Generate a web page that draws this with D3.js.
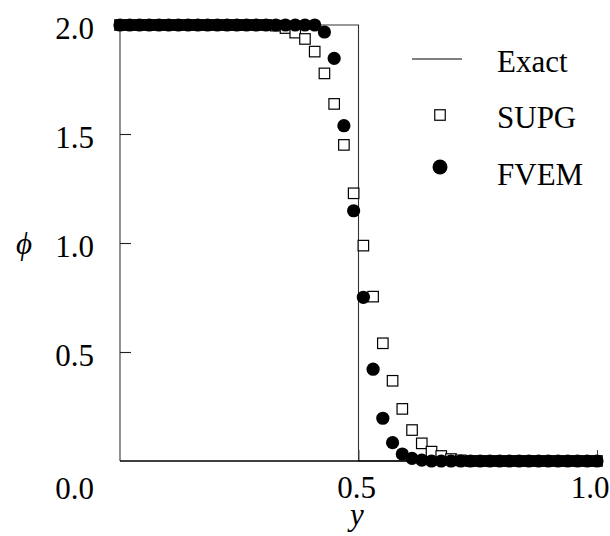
<!DOCTYPE html>
<html>
<head>
<meta charset="utf-8">
<script src="https://cdn.jsdelivr.net/npm/d3@7/dist/d3.min.js"></script>
<style>
  html, body { margin: 0; padding: 0; background: #fff; }
  svg { display: block; }
</style>
</head>
<body>
<svg id="chart" width="610" height="536"></svg>
<script>
// Node positions along y (50 uniform nodes on [0, 1])
const nodes = [
  0.000000, 0.020408, 0.040816, 0.061224, 0.081633, 0.102041, 0.122449, 0.142857, 0.163265, 0.183673,
  0.204082, 0.224490, 0.244898, 0.265306, 0.285714, 0.306122, 0.326531, 0.346939, 0.367347, 0.387755,
  0.408163, 0.428571, 0.448980, 0.469388, 0.489796, 0.510204, 0.530612, 0.551020, 0.571429, 0.591837,
  0.612245, 0.632653, 0.653061, 0.673469, 0.693878, 0.714286, 0.734694, 0.755102, 0.775510, 0.795918,
  0.816327, 0.836735, 0.857143, 0.877551, 0.897959, 0.918367, 0.938776, 0.959184, 0.979592, 1.000000
];

// SUPG solution at the nodes
const supg = [
  2.0, 2.0, 2.0, 2.0, 2.0, 2.0, 2.0, 2.0, 2.0, 2.0,
  2.0, 2.0, 2.0, 2.0, 2.0, 2.0, 1.997, 1.986, 1.965, 1.936,
  1.878, 1.778, 1.638, 1.450, 1.228, 0.988, 0.754, 0.540, 0.368, 0.239,
  0.142, 0.081, 0.043, 0.023, 0.009, 0.003, 0.0, 0.0, 0.0, 0.0,
  0.0, 0.0, 0.0, 0.0, 0.0, 0.0, 0.0, 0.0, 0.0, 0.0
];

// FVEM solution at the nodes
const fvem = [
  2.0, 2.0, 2.0, 2.0, 2.0, 2.0, 2.0, 2.0, 2.0, 2.0,
  2.0, 2.0, 2.0, 2.0, 2.0, 2.0, 2.0, 2.0, 2.0, 2.0,
  2.0, 1.968, 1.847, 1.538, 1.148, 0.751, 0.421, 0.196, 0.084, 0.032,
  0.012, 0.004, 0.0, 0.0, 0.0, 0.0, 0.0, 0.0, 0.0, 0.0,
  0.0, 0.0, 0.0, 0.0, 0.0, 0.0, 0.0, 0.0, 0.0, 0.0
];

// Exact step profile
const exactX = [0, 0.5, 0.5, 1];
const exactY = [2, 2, 0, 0];

const yTicks = [0.5, 1.0, 1.5, 2.0];
const xTicks = [0.5, 1.0];
const legendItems = ["Exact", "SUPG", "FVEM"];

const SERIF = '"Liberation Serif"';
const FONT = "31px";

const svg = d3.select("#chart");

function label(sel) {
  return sel.style("font-family", SERIF).style("font-size", FONT).attr("fill", "#000");
}

const x = d3.scaleLinear().domain([0, 1]).range([120, 597]);
const y = d3.scaleLinear().domain([0, 2]).range([461, 25]);

// Exact solution
const exactLine = d3.line().x(d => x(d[0])).y(d => y(d[1]));
svg.append("path")
  .datum(d3.zip(exactX, exactY))
  .attr("d", exactLine)
  .attr("fill", "none")
  .attr("stroke", "#333")
  .attr("stroke-width", 1.1);

// Left axis line
svg.append("line")
  .attr("x1", x(0)).attr("x2", x(0))
  .attr("y1", y(2)).attr("y2", y(0))
  .attr("stroke", "#555").attr("stroke-width", 1.3);

// y axis ticks (inward) and labels
const yAxis = d3.axisLeft(y)
  .tickValues(yTicks)
  .tickSizeInner(-11)
  .tickSizeOuter(0)
  .tickPadding(26)
  .tickFormat(d3.format(".1f"));
const gy = svg.append("g").attr("transform", `translate(${x(0)},0)`).call(yAxis);
gy.attr("font-family", null).attr("font-size", null);
gy.select(".domain").remove();
gy.selectAll(".tick line").attr("stroke", "#222").attr("stroke-width", 1.1);
gy.selectAll(".tick text").call(label).attr("dy", "0.44em");

// x axis ticks (inward)
const xAxis = d3.axisBottom(x)
  .tickValues(xTicks)
  .tickSizeInner(-11)
  .tickSizeOuter(0)
  .tickFormat("");
const gx = svg.append("g").attr("transform", `translate(0,${y(0)})`).call(xAxis);
gx.select(".domain").remove();
gx.selectAll(".tick line").attr("stroke", "#444").attr("stroke-width", 1);

// Bottom axis line
svg.append("line")
  .attr("x1", x(0)).attr("x2", x(1))
  .attr("y1", y(0)).attr("y2", y(0))
  .attr("stroke", "#000").attr("stroke-width", 1.6);

svg.selectAll("text.xlab")
  .data(xTicks)
  .join("text")
  .attr("class", "xlab")
  .attr("x", d => x(d) - (d === 1 ? 7 : 2))
  .attr("y", y(0) + 37)
  .attr("text-anchor", "middle")
  .call(label)
  .text(d => d3.format(".1f")(d));

// Origin label
svg.append("text")
  .attr("x", x(0) - 26)
  .attr("y", y(0) + 38)
  .attr("text-anchor", "end")
  .call(label)
  .text("0.0");

// SUPG markers
const SQ = 10.5;
svg.append("g").selectAll("rect")
  .data(d3.zip(nodes, supg))
  .join("rect")
  .attr("x", d => x(d[0]) - SQ / 2)
  .attr("y", d => y(d[1]) - SQ / 2)
  .attr("width", SQ).attr("height", SQ)
  .attr("fill", "#fff")
  .attr("stroke", "#000")
  .attr("stroke-width", 1.2);

// FVEM markers
svg.append("g").selectAll("circle")
  .data(d3.zip(nodes, fvem))
  .join("circle")
  .attr("cx", d => x(d[0]))
  .attr("cy", d => y(d[1]))
  .attr("r", 6.6)
  .attr("fill", "#000");

// Axis titles
svg.append("text")
  .attr("x", 357).attr("y", 525)
  .attr("text-anchor", "middle")
  .call(label)
  .style("font-style", "italic")
  .text("y");

svg.append("text")
  .attr("x", 24).attr("y", 254)
  .attr("text-anchor", "middle")
  .call(label)
  .style("font-style", "italic")
  .text("\u03D5");

// Legend
const lg = svg.append("g");
const rowY = [61, 117, 174];
legendItems.forEach((name, i) => {
  const cy = rowY[i];
  if (i === 0) {
    lg.append("line").attr("x1", 412).attr("x2", 462).attr("y1", cy - 2).attr("y2", cy - 2)
      .attr("stroke", "#000").attr("stroke-width", 1.2);
  } else if (i === 1) {
    lg.append("rect").attr("x", 440 - SQ / 2).attr("y", cy - 2 - SQ / 2)
      .attr("width", SQ).attr("height", SQ)
      .attr("fill", "#fff").attr("stroke", "#000").attr("stroke-width", 1.2);
  } else {
    lg.append("circle").attr("cx", 440).attr("cy", cy - 7).attr("r", 7.5).attr("fill", "#000");
  }
  lg.append("text")
    .attr("x", 497).attr("y", cy + 11)
    .call(label)
    .text(name);
});
</script>
</body>
</html>
